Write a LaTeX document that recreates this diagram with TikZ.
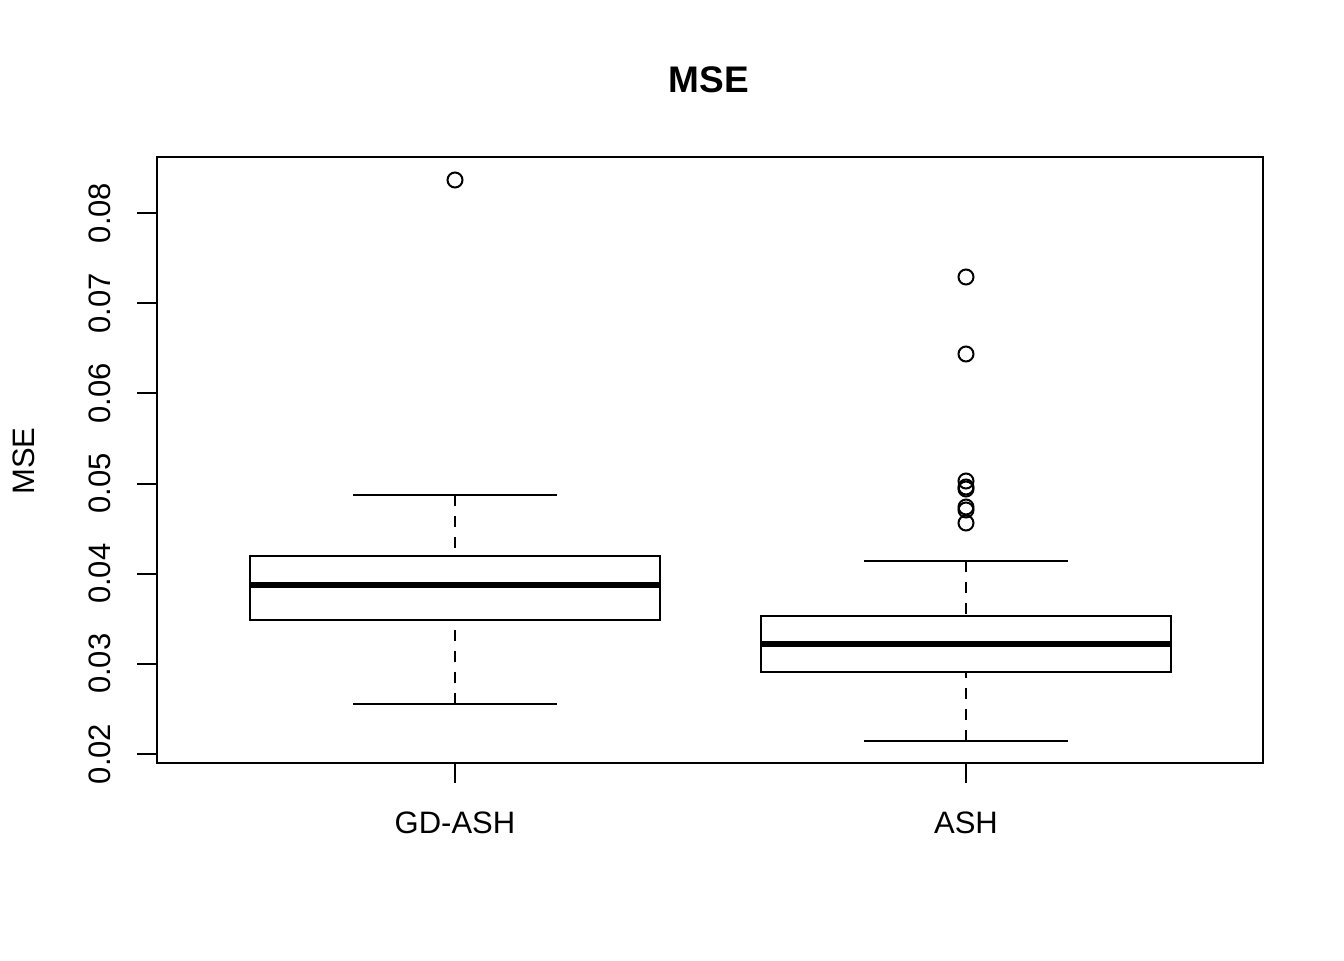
\documentclass[tikz,border=0pt]{standalone}
\usepackage{fontspec}
\setmainfont{Liberation Sans}
\begin{document}
\begin{tikzpicture}[x=0.5pt,y=-0.5pt,
    boxline/.style={line width=1pt},
    medianline/.style={line width=2.8pt},
    whisker/.style={line width=1pt, dash pattern=on 5.5pt off 5pt},
    outlier/.style={line width=1pt},
    ticklabel/.style={font=\fontsize{15.5}{18}\selectfont, inner sep=0pt}]
    \useasboundingbox (0,0) rectangle (1344,960);

    % Title and axis label
    \node[font=\fontsize{18.5}{22}\selectfont\bfseries] (title) at (709,80) {MSE};
    \node[ticklabel, rotate=90] (ylabel) at (24,461) {MSE};

    % Frame
    \draw[boxline] (157,157) rectangle (1263,763);

    % y axis
    \foreach \v/\y in {0.02/754, 0.03/663.8, 0.04/573.7, 0.05/483.5, 0.06/393.3, 0.07/303.2, 0.08/213}{
        \draw[boxline] (157,\y) -- (137,\y);
        \node[ticklabel, rotate=90] at (100,\y) {\v};
    }

    % Boxes
    \foreach \n/\c/\lo/\qa/\md/\qb/\hi in {GD-ASH/455/704/620/585/556/495, ASH/966/741/672/644/616/561}{
        \coordinate (lo-\n) at (\c,\lo);
        \coordinate (qa-\n) at (\c,\qa);
        \coordinate (qb-\n) at (\c,\qb);
        \coordinate (hi-\n) at (\c,\hi);
        \draw[whisker] (lo-\n) -- (qa-\n);
        \draw[whisker] (hi-\n) -- (qb-\n);
        \draw[boxline] ([xshift=-51pt]lo-\n) -- ([xshift=51pt]lo-\n);
        \draw[boxline] ([xshift=-51pt]hi-\n) -- ([xshift=51pt]hi-\n);
        \draw[boxline] ([xshift=-102.5pt]qa-\n) rectangle ([xshift=102.5pt]qb-\n);
        \draw[medianline] (\c-205,\md) -- (\c+205,\md);
        \draw[boxline] (\c,763) -- (\c,783);
        \node[ticklabel] (lab-\n) at (\c,823) {\n};
    }

    % Outliers
    \draw[outlier] (455,180) circle[radius=3.75pt];
    \foreach \y in {277, 354, 481, 487, 489, 507, 510, 523}
        \draw[outlier] (966,\y) circle[radius=3.75pt];

\end{tikzpicture}
\end{document}
